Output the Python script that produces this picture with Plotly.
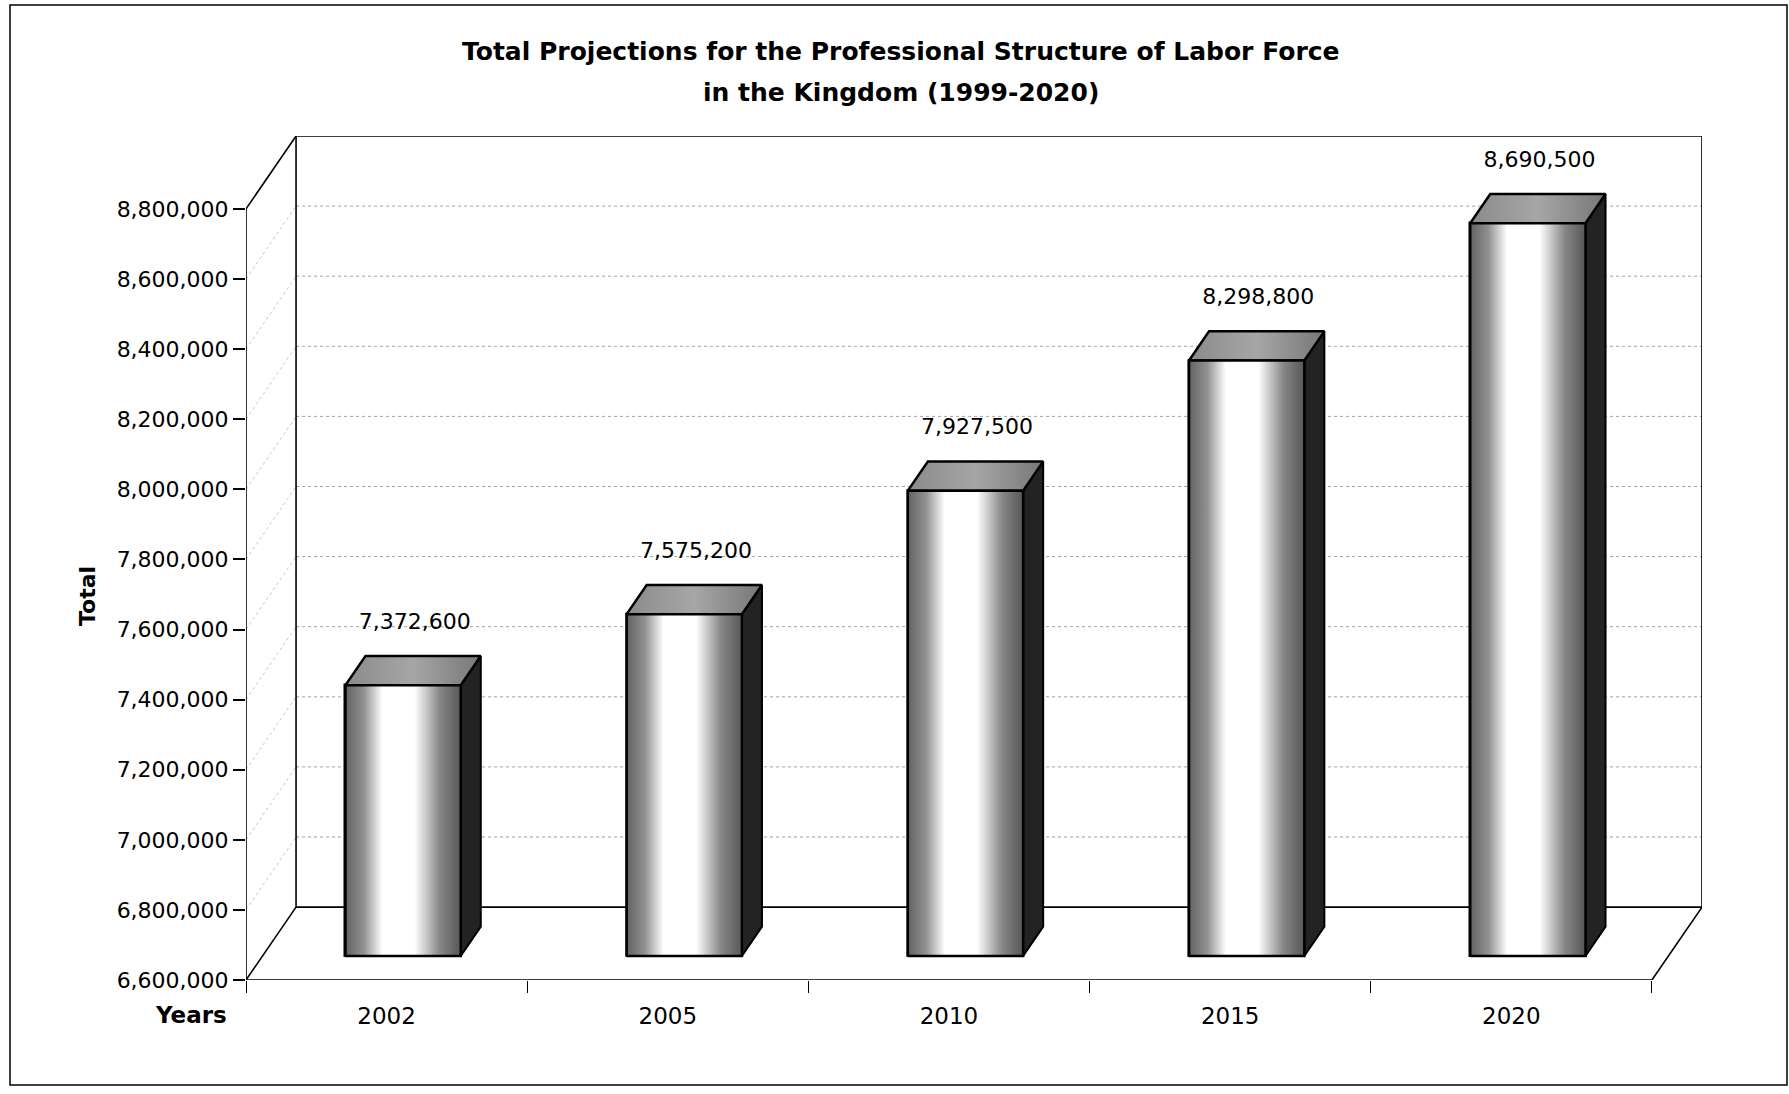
import plotly.graph_objects as go

# ---------------- data ----------------
years = ["2002", "2005", "2010", "2015", "2020"]
totals = [7372600, 7575200, 7927500, 8298800, 8690500]
y_tick_values = [6600000, 6800000, 7000000, 7200000, 7400000, 7600000,
                 7800000, 8000000, 8200000, 8400000, 8600000, 8800000]
title_lines = ["Total Projections for the Professional Structure of Labor Force",
               "in the Kingdom (1999-2020)"]
y_title = "Total"
x_title = "Years"

# ---------------- geometry of the pseudo-3D frame ----------------
W, H = 1789, 1094
ML, MT = 246, 136
MR = W - 1702
MB = H - 980
Y0 = y_tick_values[0]
YTOP = y_tick_values[-1]
DY = 208000          # depth offset in value units
DX = 0.178           # depth offset in category units
F0, F1 = 0.33, 0.73  # bar front / back depth fractions
BAR_W = 0.41
N = len(years)
FONT = "DejaVu Sans"

pw = W - ML - MR
ph = H - MT - MB


def px(xp):
    return (xp - ML) / pw


def py(yp):
    return (H - MB - yp) / ph


fig = go.Figure()

# back-wall gridlines (dotted)
gx, gy = [], []
for v in y_tick_values[1:-1]:
    gx += [DX, N + DX, None]
    gy += [v + DY, v + DY, None]
fig.add_trace(go.Scatter(x=gx, y=gy, mode="lines", hoverinfo="skip",
                         line=dict(color="rgba(70,70,70,0.5)", width=1, dash="dot"),
                         showlegend=False))
# side-wall gridlines (faint diagonals)
sx, sy = [], []
for v in y_tick_values[1:-1]:
    sx += [0, DX, None]
    sy += [v, v + DY, None]
fig.add_trace(go.Scatter(x=sx, y=sy, mode="lines", hoverinfo="skip",
                         line=dict(color="rgba(90,90,90,0.35)", width=1, dash="dot"),
                         showlegend=False))

# frame (walls and floor)
fx = [0, N, None,
      0, DX, None,
      N, N + DX, None,
      DX, N + DX, None,
      DX, DX, None,
      N + DX, N + DX, None,
      DX, N + DX, None,
      0, 0, None,
      0, DX, None]
fy = [Y0, Y0, None,
      Y0, Y0 + DY, None,
      Y0, Y0 + DY, None,
      Y0 + DY, Y0 + DY, None,
      Y0 + DY, YTOP + DY, None,
      Y0 + DY, YTOP + DY, None,
      YTOP + DY, YTOP + DY, None,
      Y0, YTOP, None,
      YTOP, YTOP + DY, None]
fig.add_trace(go.Scatter(x=fx, y=fy, mode="lines", hoverinfo="skip",
                         line=dict(color="black", width=1.6), showlegend=False))

# bars (front faces as real bars)
centers = [i + 0.5 for i in range(N)]
fig.add_trace(go.Bar(
    x=[c + F0 * DX for c in centers],
    y=[v - Y0 for v in totals],
    base=[Y0 + F0 * DY] * N,
    width=BAR_W,
    marker=dict(color="white", line=dict(color="black", width=2.5)),
    showlegend=False, hoverinfo="skip"))

dd = (F1 - F0) * DX
dv = (F1 - F0) * DY
for c, v in zip(centers, totals):
    xl = c - BAR_W / 2 + F0 * DX
    xr = xl + BAR_W
    b0 = Y0 + F0 * DY
    t0 = v + F0 * DY
    # side face
    fig.add_trace(go.Scatter(
        x=[xr, xr, xr + dd, xr + dd, xr], y=[b0, t0, t0 + dv, b0 + dv, b0],
        mode="lines", fill="toself", fillcolor="#232323",
        line=dict(color="black", width=2), hoverinfo="skip", showlegend=False))
    # top face
    fig.add_trace(go.Scatter(
        x=[xl, xr, xr + dd, xl + dd, xl], y=[t0, t0, t0 + dv, t0 + dv, t0],
        mode="lines", fill="toself",
        fillgradient=dict(type="horizontal", start=xl, stop=xr + dd,
                          colorscale=[[0, "#8a8a8a"], [0.5, "#a6a6a6"], [1, "#777777"]]),
        line=dict(color="black", width=2.5), hoverinfo="skip", showlegend=False))
    # front face shading (opaque, hides the walls behind)
    fig.add_trace(go.Scatter(
        x=[xl, xr, xr, xl, xl], y=[b0, b0, t0, t0, b0],
        mode="lines", fill="toself",
        fillgradient=dict(type="horizontal", start=xl, stop=xr,
                          colorscale=[[0, "#626262"], [0.16, "#929292"],
                                      [0.32, "#ffffff"], [0.6, "#ffffff"],
                                      [0.82, "#868686"], [1, "#575757"]]),
        line=dict(color="black", width=2.5), hoverinfo="skip", showlegend=False))

# data labels
fig.add_trace(go.Scatter(
    x=[c + 0.1 for c in centers], y=[v + 245000 for v in totals],
    mode="text", text=[f"{v:,}" for v in totals],
    textfont=dict(family=FONT, size=22, color="black"),
    hoverinfo="skip", showlegend=False))

annotations = [
    dict(text=f"<b>{title_lines[0]}</b>", xref="paper", yref="paper", x=px(901), y=py(52),
         xanchor="center", yanchor="middle", showarrow=False, font=dict(family=FONT, size=25)),
    dict(text=f"<b>{title_lines[1]}</b>", xref="paper", yref="paper", x=px(901), y=py(92),
         xanchor="center", yanchor="middle", showarrow=False, font=dict(family=FONT, size=25)),
    dict(text=f"<b>{x_title}</b>", xref="paper", yref="paper", x=px(191), y=py(1015),
         xanchor="center", yanchor="middle", showarrow=False, font=dict(family=FONT, size=23)),
    dict(text=f"<b>{y_title}</b>", xref="paper", yref="paper", x=px(87), y=py(596),
         xanchor="center", yanchor="middle", textangle=-90, showarrow=False,
         font=dict(family=FONT, size=22)),
]

fig.update_layout(
    width=W, height=H, autosize=False,
    margin=dict(l=ML, r=MR, t=MT, b=MB),
    paper_bgcolor="white", plot_bgcolor="white",
    font=dict(family=FONT, size=22, color="black"),
    bargap=0,
    xaxis=dict(range=[0, N + DX], showgrid=False, zeroline=False, showline=False,
               tickmode="array", tickvals=centers, ticktext=years, ticks="",
               ticklabelstandoff=20, tickfont=dict(family=FONT, size=23),
               minor=dict(tickmode="array", tickvals=list(range(N + 1)), ticks="outside",
                          ticklen=12, tickwidth=1, tickcolor="black", showgrid=False)),
    yaxis=dict(range=[Y0, YTOP + DY], showgrid=False, zeroline=False, showline=False,
               tickmode="array", tickvals=y_tick_values, tickformat=",",
               ticks="outside", ticklen=12, tickwidth=1.5, tickcolor="black",
               tickfont=dict(family=FONT, size=22)),
    annotations=annotations,
    shapes=[dict(type="rect", xref="paper", yref="paper", x0=px(10), x1=px(1787),
                 y0=py(1085), y1=py(5), line=dict(color="black", width=1.5))],
)

fig.write_html("out.html", config={"displayModeBar": False},
               post_script="document.body.style.margin='0';document.body.style.overflow='hidden';")
